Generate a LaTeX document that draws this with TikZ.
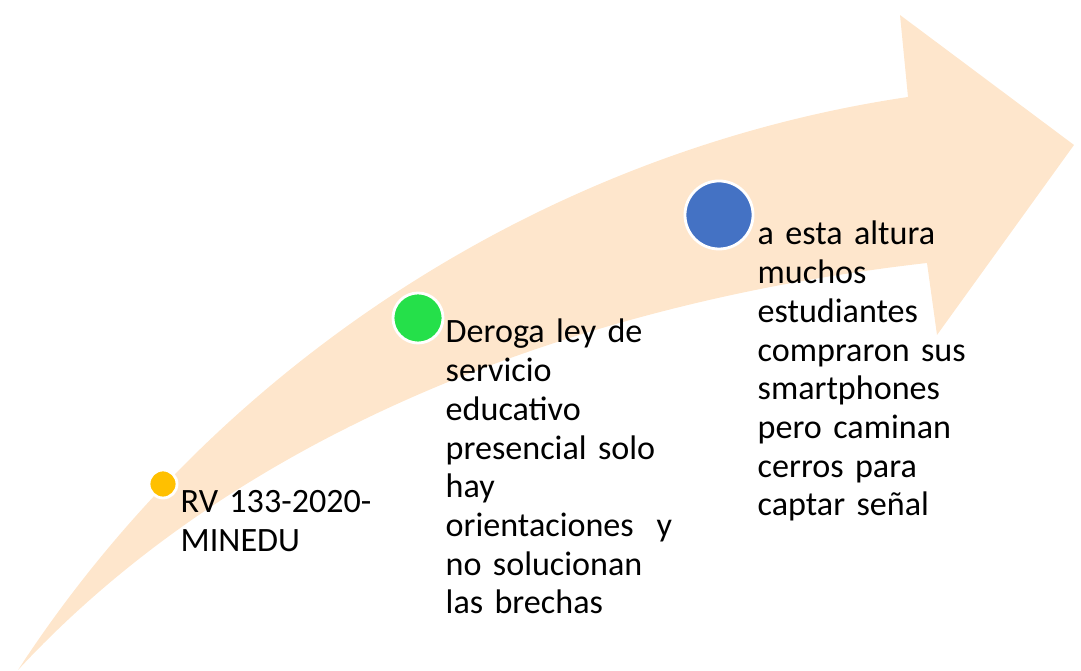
\documentclass[tikz,border=0pt]{standalone}
\usepackage{fontspec}
\setmainfont[WordSpace=0.7]{Carlito}
\definecolor{flecha}{RGB}{254,230,204}
\definecolor{amarillo}{RGB}{255,192,0}
\definecolor{verde}{RGB}{37,224,74}
\definecolor{azul}{RGB}{68,114,196}
\tikzset{
  hito/.style={circle, draw=white, line width=0.8pt, inner sep=0pt},
  texto/.style={text width=3.2cm, align=left, inner sep=0pt, anchor=base west,
    font=\fontsize{9.7}{11}\selectfont}
}
\begin{document}
\begin{tikzpicture}[x=0.01cm, y=-0.01cm]
            \useasboundingbox (0,0) rectangle (1081,671);
            \fill[flecha] (18,670) .. controls (220,360) and (550,150) .. (908,97)
              -- (900,15) -- (1074,145) -- (937,335) -- (927,263)
              .. controls (600,300) and (250,420) .. cycle;
            \draw (163,484) node[hito, fill=amarillo, minimum size=0.28cm] (rv) {};
            \draw (418,318) node[hito, fill=verde, minimum size=0.5cm] (deroga) {};
            \draw (719,215) node[hito, fill=azul, minimum size=0.68cm] (altura) {};
            \draw (180,513) node[texto] (rvtxt) {RV 133-2020-\\MINEDU};
            \draw (445,343) node[texto] (derogatxt) {Deroga ley de\\servicio\\educativo\\presencial solo\\hay\\orientaciones\ \ y\\no solucionan\\las brechas};
            \draw (757,245) node[texto] (alturatxt) {a esta altura\\muchos\\estudiantes\\compraron sus\\smartphones\\pero caminan\\cerros para\\captar señal};
        \end{tikzpicture}
\end{document}
